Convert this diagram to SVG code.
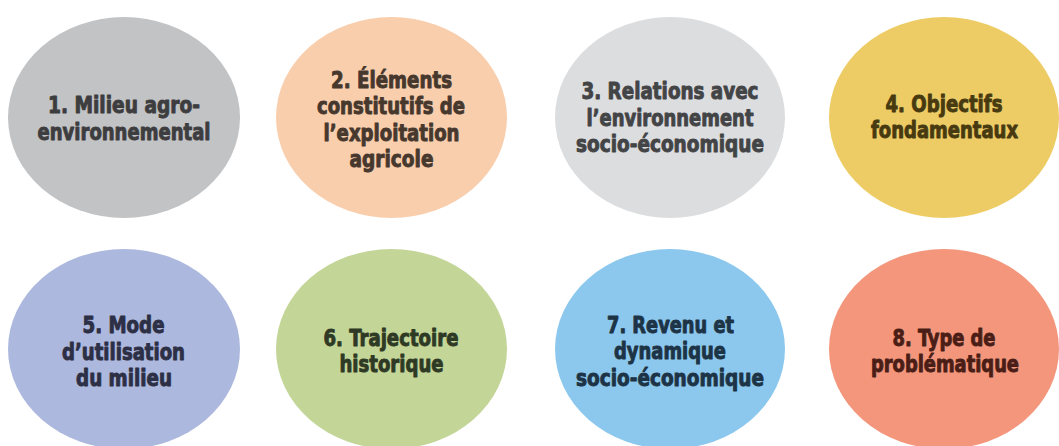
<svg xmlns="http://www.w3.org/2000/svg" width="1059" height="446" viewBox="0 0 1059 446">
<style>
text{font-family:"DejaVu Sans Condensed","DejaVu Sans","Liberation Sans",sans-serif;font-stretch:condensed;font-weight:bold;font-size:23px;text-anchor:middle;stroke-width:0.9px;stroke-linejoin:round}
</style>
<rect width="1059" height="446" fill="#ffffff"/>
<g id="node1"><ellipse cx="124" cy="117.5" rx="116" ry="100.5" fill="#c2c3c5"/>
<g fill="#3d3d3f" stroke="#3d3d3f"><text x="124" y="113" textLength="152" lengthAdjust="spacingAndGlyphs">1. Milieu agro-</text>
<text x="124" y="140" textLength="173" lengthAdjust="spacingAndGlyphs">environnemental</text></g></g>
<g id="node2"><ellipse cx="391.5" cy="117.5" rx="115.5" ry="100.5" fill="#f9cead"/>
<g fill="#47382e" stroke="#47382e"><text x="391.5" y="87.5" textLength="121" lengthAdjust="spacingAndGlyphs">2. Éléments</text>
<text x="391" y="114" textLength="148" lengthAdjust="spacingAndGlyphs">constitutifs de</text>
<text x="391.5" y="140.5" textLength="136" lengthAdjust="spacingAndGlyphs">l’exploitation</text>
<text x="391.5" y="166.5" textLength="84" lengthAdjust="spacingAndGlyphs">agricole</text></g></g>
<g id="node3"><ellipse cx="670" cy="117.5" rx="115" ry="100.5" fill="#dcdddf"/>
<g fill="#434446" stroke="#434446"><text x="670" y="99" textLength="177" lengthAdjust="spacingAndGlyphs">3. Relations avec</text>
<text x="670" y="125.5" textLength="167" lengthAdjust="spacingAndGlyphs">l’environnement</text>
<text x="670" y="151.5" textLength="188" lengthAdjust="spacingAndGlyphs">socio-économique</text></g></g>
<g id="node4"><ellipse cx="944" cy="117.5" rx="115" ry="100.5" fill="#edcc66"/>
<g fill="#483a10" stroke="#483a10"><text x="944" y="111.5" textLength="117" lengthAdjust="spacingAndGlyphs">4. Objectifs</text>
<text x="944.5" y="137.5" textLength="147" lengthAdjust="spacingAndGlyphs">fondamentaux</text></g></g>
<g id="node5"><ellipse cx="124" cy="349" rx="116" ry="100" fill="#acb8dd"/>
<g fill="#2c2f45" stroke="#2c2f45"><text x="123.5" y="333" textLength="82" lengthAdjust="spacingAndGlyphs">5. Mode</text>
<text x="123.5" y="359.5" textLength="123" lengthAdjust="spacingAndGlyphs">d’utilisation</text>
<text x="124" y="386" textLength="96" lengthAdjust="spacingAndGlyphs">du milieu</text></g></g>
<g id="node6"><ellipse cx="391.5" cy="349" rx="115.5" ry="100" fill="#c4d598"/>
<g fill="#2e3a24" stroke="#2e3a24"><text x="391" y="346" textLength="135" lengthAdjust="spacingAndGlyphs">6. Trajectoire</text>
<text x="391.5" y="372" textLength="104" lengthAdjust="spacingAndGlyphs">historique</text></g></g>
<g id="node7"><ellipse cx="670" cy="349" rx="115" ry="100" fill="#8cc8ee"/>
<g fill="#1d3346" stroke="#1d3346"><text x="670.5" y="333" textLength="127" lengthAdjust="spacingAndGlyphs">7. Revenu et</text>
<text x="670" y="359" textLength="112" lengthAdjust="spacingAndGlyphs">dynamique</text>
<text x="670" y="385.5" textLength="188" lengthAdjust="spacingAndGlyphs">socio-économique</text></g></g>
<g id="node8"><ellipse cx="944" cy="349" rx="115" ry="100" fill="#f4967c"/>
<g fill="#4a1e16" stroke="#4a1e16"><text x="944" y="346" textLength="103" lengthAdjust="spacingAndGlyphs">8. Type de</text>
<text x="945" y="372" textLength="148" lengthAdjust="spacingAndGlyphs">problématique</text></g></g>
<g id="connectors"></g>
</svg>
